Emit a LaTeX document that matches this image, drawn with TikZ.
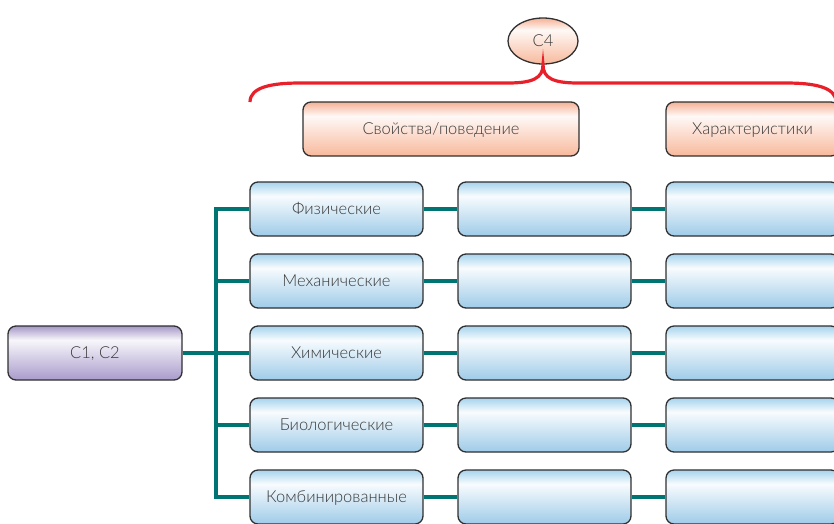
\documentclass[tikz,border=0pt]{standalone}
\usepackage{fontspec}
\setmainfont{Lato Light}
\usetikzlibrary{shapes.geometric}
\colorlet{myteal}{teal!90!black}
\definecolor{myred}{HTML}{E8202A}
\definecolor{myedge}{HTML}{303030}
\definecolor{mytext}{HTML}{383838}
\definecolor{bluetop}{HTML}{A6D3EE}
\definecolor{bluebot}{HTML}{9ECBE9}
\definecolor{orangetop}{HTML}{F5B195}
\definecolor{orangebot}{HTML}{F8B99C}
\definecolor{violettop}{HTML}{A497C6}
\definecolor{violetbot}{HTML}{A99BCB}
\pgfdeclareverticalshading{blueshade}{100bp}{color(0bp)=(bluebot); color(25bp)=(bluebot); color(62bp)=(white!92!bluetop); color(75bp)=(bluetop); color(100bp)=(bluetop)}
\pgfdeclareverticalshading{orangeshade}{100bp}{color(0bp)=(orangebot); color(25bp)=(orangebot); color(62bp)=(white!92!orangetop); color(75bp)=(orangetop); color(100bp)=(orangetop)}
\pgfdeclareverticalshading{violetshade}{100bp}{color(0bp)=(violetbot); color(25bp)=(violetbot); color(62bp)=(white!92!violettop); color(75bp)=(violettop); color(100bp)=(violettop)}

\begin{document}
\begin{tikzpicture}[x=1pt,y=-1pt,
  box/.style={draw=myedge,line width=1.3pt,rounded corners=8pt,inner sep=0,
    minimum width=173pt,minimum height=54pt,text=mytext,text height=11pt,text depth=0pt,
    font=\fontsize{16.5}{18}\selectfont},
  bluebox/.style={box,shading=blueshade},
  orangebox/.style={box,shading=orangeshade},
  violetbox/.style={box,shading=violetshade,minimum width=174pt},
  link/.style={draw=myteal,line width=3.6pt},
  brace/.style={draw=myred,line width=3.2pt}]
\useasboundingbox (0,0) rectangle (834,523);
\clip (0,0) rectangle (834,523);

% header
\node[ellipse,draw=myedge,line width=1.3pt,shading=orangeshade,minimum width=70pt,
  minimum height=46pt,inner sep=0,text=mytext,text height=11pt,text depth=0pt,
  font=\fontsize{16.5}{18}\selectfont] (c4) at (543,41) {C4};
\node[orangebox,minimum width=276pt] (props) at (441,129) {Свойства/поведение};
\node[orangebox] (chars) at (752.5,129) {Характеристики};
\draw[brace] (250,102) .. controls (250,87) and (272,83) .. (300,83) -- (508,83)
  .. controls (533,83) and (543,78) .. (c4.south) .. controls (543,78) and (553,83) .. (578,83)
  -- (786,83) .. controls (814,83) and (836,87) .. (836,102);

% rows
\node[violetbox] (c12) at (95,353) {C1, C2};
\foreach \i/\txt in {1/Физические,2/Механические,3/Химические,4/Биологические,5/Комбинированные} {
  \node[bluebox] (a\i) at (336.5,137+72*\i) {\txt};
  \node[bluebox] (b\i) at (544.5,137+72*\i) {};
  \node[bluebox] (c\i) at (752.5,137+72*\i) {};
}

% connectors
\coordinate (trunk) at (216,353);
\draw[link] (c12) -- (a3);
\draw[link] (a1.west) -- (a1.west -| trunk) -- (a5.west -| trunk) -- (a5.west);
\foreach \i in {2,4} \draw[link] (a\i.west -| trunk) -- (a\i.west);
\foreach \i in {1,...,5} {
  \draw[link] (a\i) -- (b\i);
  \draw[link] (b\i) -- (c\i);
}
\end{tikzpicture}
\end{document}
